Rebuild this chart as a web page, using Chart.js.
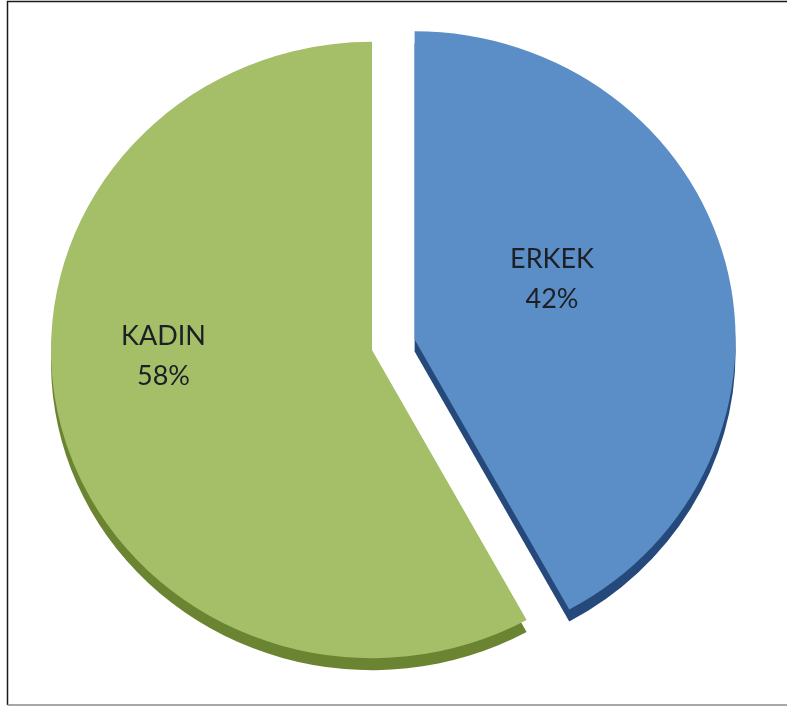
<!DOCTYPE html>
<html>
<head>
<meta charset="utf-8">
<script src="https://cdn.jsdelivr.net/npm/chart.js@4.4.1/dist/chart.umd.min.js"></script>
<style>
  html, body { margin: 0; padding: 0; background: #fff; }
  #wrap { position: relative; width: 787px; height: 706px; }
</style>
</head>
<body>
<div id="wrap"><canvas id="genderPie" width="787" height="706"></canvas></div>
<script>
// ERKEK first so it runs clockwise from 12 o'clock, KADIN fills the rest
const labels = ["ERKEK", "KADIN"];
const values = [42, 58];
const pctLabels = ["42%", "58%"];

const faceColors = ["#5b8dc6", "#a5bf69"];
const sideColors = ["#24497a", "#6a8431"];

const EXPLODE = [44, 0];  // how far each slice is pulled out along its bisector
const SQUASH = 0.96;      // slight vertical flattening of the pie
const DEPTH = 12;         // thickness of the darker rim underneath

// label placement: fraction of radius, angle shift (deg) from slice bisector
const labelPlace = [[0.47, -10], [0.65, 12.6]];

function arcGeom(arc, i) {
  const p = arc.getProps(['x', 'y', 'startAngle', 'endAngle', 'outerRadius']);
  const mid = (p.startAngle + p.endAngle) / 2;
  return {
    p: p,
    mid: mid,
    dx: Math.cos(mid) * EXPLODE[i],
    dy: Math.sin(mid) * EXPLODE[i]
  };
}

function squash(ctx, chart) {
  const a = chart.chartArea;
  const cy = (a.top + a.bottom) / 2;
  ctx.translate(0, cy);
  ctx.scale(1, SQUASH);
  ctx.translate(0, -cy);
}

const frame = {
  id: 'frame',
  beforeDraw(chart) {
    const ctx = chart.ctx;
    ctx.save();
    ctx.fillStyle = '#fff';
    ctx.fillRect(0, 0, chart.width, chart.height);
    ctx.strokeStyle = '#1a1a1a';
    ctx.lineWidth = 1.5;
    ctx.beginPath();
    ctx.moveTo(7.5, 705); ctx.lineTo(7.5, 1.5); ctx.lineTo(chart.width, 1.5);
    ctx.stroke();
    ctx.strokeStyle = '#8a8a8a';
    ctx.beginPath();
    ctx.moveTo(7.5, 705); ctx.lineTo(chart.width, 705);
    ctx.stroke();
    ctx.restore();
  }
};

// darker rim first, then the slice faces, each pulled out by EXPLODE
const pie3d = {
  id: 'pie3d',
  beforeDatasetDraw(chart, args) {
    const ctx = chart.ctx;
    const arcs = args.meta.data;
    ctx.save();
    squash(ctx, chart);
    arcs.forEach((arc, i) => {
      const g = arcGeom(arc, i);
      const x = g.p.x + g.dx;
      const y = g.p.y + g.dy + DEPTH / SQUASH;
      ctx.beginPath();
      ctx.moveTo(x, y);
      ctx.arc(x, y, g.p.outerRadius, g.p.startAngle, g.p.endAngle);
      ctx.closePath();
      ctx.fillStyle = sideColors[i];
      ctx.fill();
    });
    arcs.forEach((arc, i) => {
      const g = arcGeom(arc, i);
      ctx.save();
      ctx.translate(g.dx, g.dy);
      arc.draw(ctx);
      ctx.restore();
    });
    ctx.restore();
    return false;
  }
};

const sliceLabels = {
  id: 'sliceLabels',
  afterDraw(chart) {
    const ctx = chart.ctx;
    const meta = chart.getDatasetMeta(0);
    const a = chart.chartArea;
    const cy = (a.top + a.bottom) / 2;
    ctx.save();
    ctx.font = '27px Lato, "Open Sans", sans-serif';
    ctx.fillStyle = '#1c1f24';
    ctx.textAlign = 'center';
    ctx.textBaseline = 'middle';
    meta.data.forEach((arc, i) => {
      const g = arcGeom(arc, i);
      const [frac, shift] = labelPlace[i];
      const ang = g.mid + shift * Math.PI / 180;
      const r = g.p.outerRadius * frac;
      const lx = g.p.x + g.dx + Math.cos(ang) * r;
      const ly = cy + (g.p.y + g.dy + Math.sin(ang) * r - cy) * SQUASH;
      ctx.fillText(labels[i], lx, ly - 20);
      ctx.fillText(pctLabels[i], lx, ly + 20);
    });
    ctx.restore();
  }
};

new Chart(document.getElementById('genderPie'), {
  type: 'pie',
  data: {
    labels: labels,
    datasets: [{
      data: values,
      backgroundColor: faceColors,
      borderWidth: 0,
      hoverOffset: 0
    }]
  },
  options: {
    responsive: false,
    animation: false,
    events: [],
    radius: 321,
    layout: { padding: { left: 0, right: 43, top: 0, bottom: 6 } },
    plugins: {
      legend: { display: false },
      tooltip: { enabled: false }
    }
  },
  plugins: [frame, pie3d, sliceLabels]
});
</script>
</body>
</html>
